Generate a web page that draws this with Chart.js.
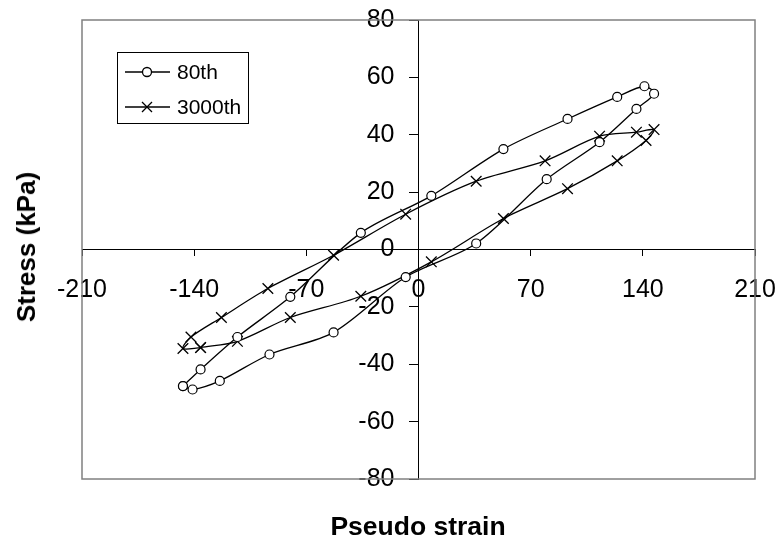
<!DOCTYPE html>
<html>
<head>
<meta charset="utf-8">
<script src="https://cdn.jsdelivr.net/npm/chart.js@4.4.1/dist/chart.umd.min.js"></script>
<style>
  html, body { margin: 0; padding: 0; background: #fff; }
  #wrap { position: relative; width: 784px; height: 542px; }
  .axisTitle { position: absolute; font-family: "Liberation Sans", Arial, sans-serif; font-weight: bold; color: #000; white-space: nowrap; line-height: 1; }
  #xTitle { left: 418px; top: 526px; font-size: 26.5px; transform: translate(-50%, -50%); }
  #yTitle { left: 26px; top: 247px; font-size: 26px; transform: translate(-50%, -50%) rotate(-90deg); }
</style>
</head>
<body>
<div id="wrap">
  <canvas id="loopChart" width="784" height="542"></canvas>
  <div class="axisTitle" id="xTitle">Pseudo strain</div>
  <div class="axisTitle" id="yTitle">Stress (kPa)</div>
</div>
<script>
// 80th cycle
let strain80 = [-147, -136, -113, -80, -36, 8, 53, 93, 124, 141, 147, 136, 113, 80, 36, -8, -53, -93, -124, -141, -147];
let stress80 = [-47.6, -41.8, -30.5, -16.5, 5.8, 18.7, 35, 45.5, 53.2, 56.9, 54.3, 49, 37.4, 24.5, 2.1, -9.6, -28.9, -36.6, -45.8, -48.8, -47.6];

// 3000th cycle
let strain3000 = [-136, -113, -80, -36, 8, 53, 93, 124, 142, 147, 136, 113, 79, 36, -8, -53, -94, -123, -142, -147, -136];
let stress3000 = [-34.2, -32, -23.7, -16.3, -4.3, 10.8, 21.2, 30.9, 38, 41.8, 40.9, 39.5, 30.9, 23.8, 12.3, -2, -13.6, -23.7, -30.5, -34.5, -34.2];

let seriesNames = ["80th", "3000th"];
let xTicks = [-210, -140, -70, 0, 70, 140, 210];
let yTicks = [-80, -60, -40, -20, 0, 20, 40, 60, 80];

function toPoints(xs, ys) {
    return xs.map((x, i) => ({ x: x, y: ys[i] }));
}

const FONT = "'Liberation Sans', Arial, sans-serif";

// keep the plot area exactly where layout.padding puts it
function noScalePadding(s) {
    s.paddingLeft = 0;
    s.paddingRight = 0;
    s.paddingTop = 0;
    s.paddingBottom = 0;
}

// gray frame round the plot area
const framePlugin = {
    id: "frame",
    beforeDatasetsDraw(chart) {
        const a = chart.chartArea;
        const ctx = chart.ctx;
        ctx.save();
        ctx.strokeStyle = "#808080";
        ctx.lineWidth = 1.5;
        ctx.strokeRect(a.left, a.top, a.right - a.left, a.bottom - a.top);
        ctx.restore();
    }
};

// legend box with line + marker samples
const legendPlugin = {
    id: "boxLegend",
    afterDraw(chart) {
        const ctx = chart.ctx;
        ctx.save();
        ctx.fillStyle = "#fff";
        ctx.fillRect(117.5, 52.5, 131, 71);
        ctx.strokeStyle = "#000";
        ctx.lineWidth = 1;
        ctx.strokeRect(117.5, 52.5, 131, 71);
        const rows = [72, 107];
        chart.data.datasets.forEach((ds, i) => {
            const y = rows[i];
            ctx.strokeStyle = "#000";
            ctx.lineWidth = 1.3;
            ctx.beginPath();
            ctx.moveTo(125, y);
            ctx.lineTo(170, y);
            ctx.stroke();
            if (ds.pointStyle === "circle") {
                ctx.beginPath();
                ctx.arc(147, y, 4.5, 0, Math.PI * 2);
                ctx.fillStyle = "#fff";
                ctx.fill();
                ctx.stroke();
            } else {
                ctx.beginPath();
                ctx.moveTo(142, y - 5); ctx.lineTo(152, y + 5);
                ctx.moveTo(152, y - 5); ctx.lineTo(142, y + 5);
                ctx.stroke();
            }
            ctx.fillStyle = "#000";
            ctx.font = "21px " + FONT;
            ctx.textBaseline = "middle";
            ctx.fillText(ds.label, 177, y + 1);
        });
        ctx.restore();
    }
};

let ctx = document.getElementById("loopChart").getContext("2d");
let loopChart = new Chart(ctx, {
    type: "scatter",
    data: {
        datasets: [{
            label: seriesNames[0],
            data: toPoints(strain80, stress80),
            showLine: true,
            tension: 0.3,
            borderColor: "#000",
            borderWidth: 1.3,
            pointStyle: "circle",
            pointRadius: 4.5,
            pointBorderWidth: 1.2,
            pointBorderColor: "#000",
            pointBackgroundColor: "#fff"
        }, {
            label: seriesNames[1],
            data: toPoints(strain3000, stress3000),
            showLine: true,
            tension: 0.3,
            borderColor: "#000",
            borderWidth: 1.3,
            pointStyle: "crossRot",
            pointRadius: 7.5,
            pointBorderWidth: 1.3,
            pointBorderColor: "#000",
            pointBackgroundColor: "#000"
        }]
    },
    options: {
        responsive: false,
        animation: false,
        devicePixelRatio: 1,
        layout: { padding: { left: 82, top: 20, right: 29, bottom: 63 } },
        plugins: {
            legend: { display: false },
            tooltip: { enabled: false }
        },
        scales: {
            x: {
                type: "linear",
                min: -210,
                max: 210,
                position: { y: 0 },
                afterBuildTicks: (s) => { s.ticks = xTicks.map(v => ({ value: v })); },
                afterFit: noScalePadding,
                ticks: { color: "#000", font: { family: FONT, size: 25 }, padding: 20, maxRotation: 0, autoSkip: false },
                grid: { drawOnChartArea: false, drawTicks: true, tickLength: 6, color: "#000" },
                border: { color: "#000", width: 1 }
            },
            y: {
                type: "linear",
                min: -80,
                max: 80,
                position: { x: 0 },
                afterBuildTicks: (s) => { s.ticks = yTicks.map(v => ({ value: v })); },
                afterFit: noScalePadding,
                ticks: { display: false },
                grid: { drawOnChartArea: false, drawTicks: true, tickLength: 9, color: "#000" },
                border: { color: "#000", width: 1 }
            },
            // label-only copy of the y axis, shifted left so the numbers sit clear of the axis line
            yLabels: {
                type: "linear",
                axis: "y",
                min: -80,
                max: 80,
                position: { x: -15 },
                afterBuildTicks: (s) => { s.ticks = yTicks.map(v => ({ value: v })); },
                afterFit: noScalePadding,
                ticks: { color: "#000", font: { family: FONT, size: 25 }, autoSkip: false },
                grid: { display: false },
                border: { display: false }
            }
        }
    },
    plugins: [framePlugin, legendPlugin]
});
</script>
</body>
</html>
